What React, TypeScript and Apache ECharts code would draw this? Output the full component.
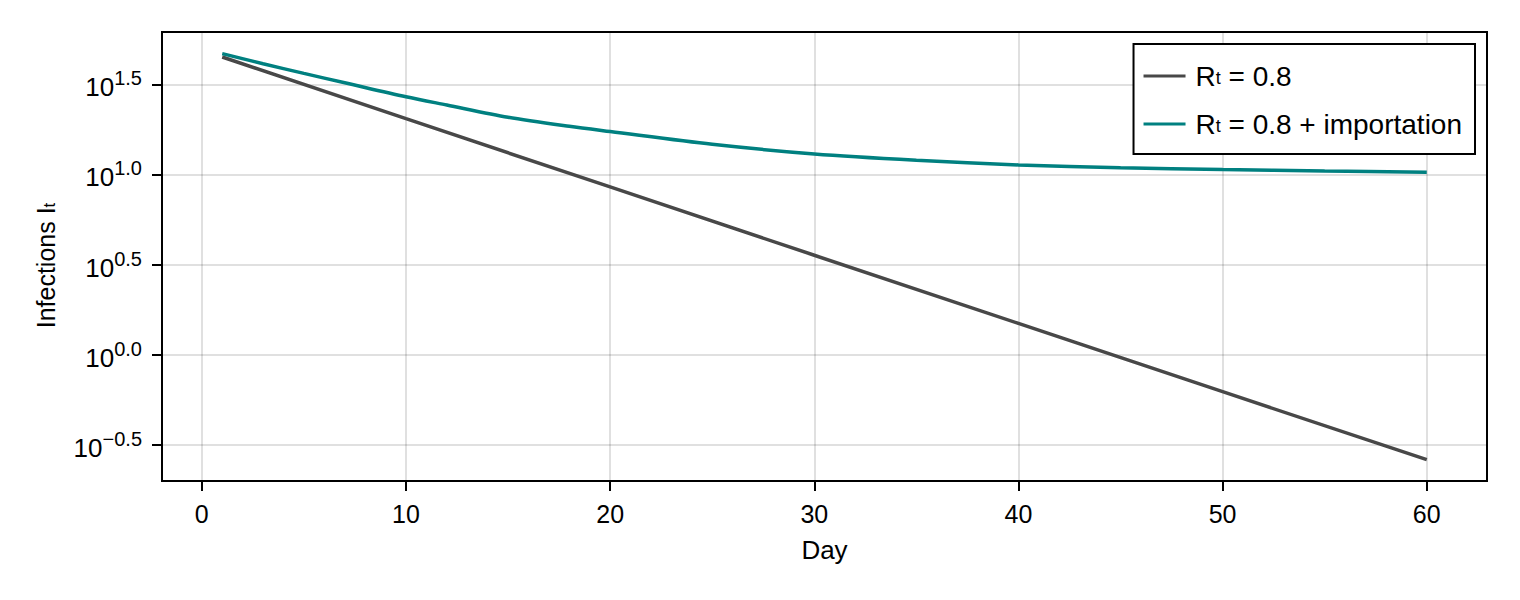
import React, { useEffect, useRef } from "react";
import * as echarts from "echarts";

// Day of the series
const baseDays = [1, 10, 20, 30, 40, 50, 60];
// Infections, Rt = 0.8
const baseInfections = [44.9, 20.4, 8.53, 3.56, 1.49, 0.622, 0.261];

const impDays = [1, 3, 5, 7, 10, 12, 15, 18, 20, 25, 30, 35, 40, 45, 50, 55, 60];
// Infections, Rt = 0.8 + importation
const impInfections = [
  46.9, 41.2, 36.4, 32.3, 27.0, 24.3, 20.8, 18.5, 17.3, 14.7, 13.0, 12.0, 11.3,
  10.9, 10.64, 10.45, 10.3,
];

const seriesNames = ["Rt = 0.8", "Rt = 0.8 + importation"];
const seriesColors = ["#484848", "#008080"];

const xTicks = [0, 10, 20, 30, 40, 50, 60];
const yTickExponents = [-0.5, 0, 0.5, 1, 1.5];

const FONT = "'Liberation Sans', Arial, Helvetica, sans-serif";

export default function App() {
  const ref = useRef<HTMLDivElement>(null);

  useEffect(() => {
    if (!ref.current) return;
    const chart = echarts.init(ref.current, undefined, { renderer: "svg" });

    const toLog = (days: number[], vals: number[]) =>
      days.map((d, i) => [d, Math.log10(vals[i])]);

    const option: any = {
      animation: false,
      backgroundColor: "#ffffff",
      textStyle: { fontFamily: FONT },
      grid: {
        left: 162,
        right: 33,
        top: 32,
        bottom: 119,
        show: true,
        backgroundColor: "#ffffff",
        borderColor: "#000000",
        borderWidth: 2,
      },
      xAxis: {
        type: "value",
        min: -1.95,
        max: 62.95,
        name: "Day",
        nameLocation: "middle",
        nameGap: 56,
        nameTextStyle: { fontSize: 26, color: "#000", fontFamily: FONT },
        axisLine: { show: true, onZero: false, lineStyle: { color: "#000", width: 2 } },
        axisTick: {
          show: true,
          length: 10,
          lineStyle: { color: "#000", width: 2 },
          customValues: xTicks,
        },
        axisLabel: {
          customValues: xTicks,
          fontSize: 25,
          color: "#000",
          margin: 20,
          fontFamily: FONT,
        },
        splitLine: {
          show: true,
          lineStyle: { color: "rgba(0,0,0,0.12)", width: 2 },
        },
      },
      yAxis: {
        type: "value",
        min: -0.702,
        max: 1.791,
        name: "Infections I{sub|t}",
        nameLocation: "middle",
        nameGap: 104,
        nameRotate: 90,
        nameTextStyle: {
          fontSize: 25,
          color: "#000",
          fontFamily: FONT,
          padding: [0, 18, 0, 0],
          rich: {
            sub: { fontSize: 17, verticalAlign: "bottom", color: "#000", fontFamily: FONT },
          },
        },
        axisLine: { show: true, onZero: false, lineStyle: { color: "#000", width: 2 } },
        axisTick: {
          show: true,
          length: 10,
          lineStyle: { color: "#000", width: 2 },
          customValues: yTickExponents,
        },
        axisLabel: {
          customValues: yTickExponents,
          margin: 20,
          color: "#000",
          formatter: (v: number) =>
            `{b|10}{s|${v.toFixed(1).replace("-", "\u2212")}}`,
          rich: {
            b: {
              fontSize: 26,
              lineHeight: 32,
              verticalAlign: "bottom",
              color: "#000",
              fontFamily: FONT,
            },
            s: {
              fontSize: 20,
              lineHeight: 19,
              verticalAlign: "top",
              color: "#000",
              fontFamily: FONT,
            },
          },
        },
        splitLine: {
          show: true,
          lineStyle: { color: "rgba(0,0,0,0.12)", width: 2 },
        },
      },
      legend: {
        show: true,
        orient: "vertical",
        right: 45,
        top: 44,
        data: seriesNames,
        icon: "rect",
        itemWidth: 42,
        itemHeight: 3,
        itemGap: 18,
        padding: [17, 13, 15, 10],
        backgroundColor: "#ffffff",
        borderColor: "#000000",
        borderWidth: 2,
        borderRadius: 0,
        formatter: (name: string) => name.replace("Rt", "R{sub|t}"),
        textStyle: {
          fontSize: 28,
          lineHeight: 30,
          color: "#000",
          fontFamily: FONT,
          padding: [0, 0, 0, 5],
          rich: {
            sub: {
              fontSize: 18,
              verticalAlign: "bottom",
              lineHeight: 24,
              padding: [0, 0, 4, 0],
              color: "#000",
              fontFamily: FONT,
            },
          },
        },
      },
      series: [
        {
          name: seriesNames[0],
          type: "line",
          data: toLog(baseDays, baseInfections),
          showSymbol: false,
          symbol: "none",
          color: seriesColors[0],
          lineStyle: { color: seriesColors[0], width: 3.5 },
        },
        {
          name: seriesNames[1],
          type: "line",
          data: toLog(impDays, impInfections),
          showSymbol: false,
          symbol: "none",
          smooth: 0.3,
          color: seriesColors[1],
          lineStyle: { color: seriesColors[1], width: 3.5 },
        },
      ],
    };

    chart.setOption(option);
    return () => chart.dispose();
  }, []);

  return (
    <div
      ref={ref}
      style={{ position: "fixed", left: 0, top: 0, width: 1520, height: 600, background: "#fff" }}
    />
  );
}
